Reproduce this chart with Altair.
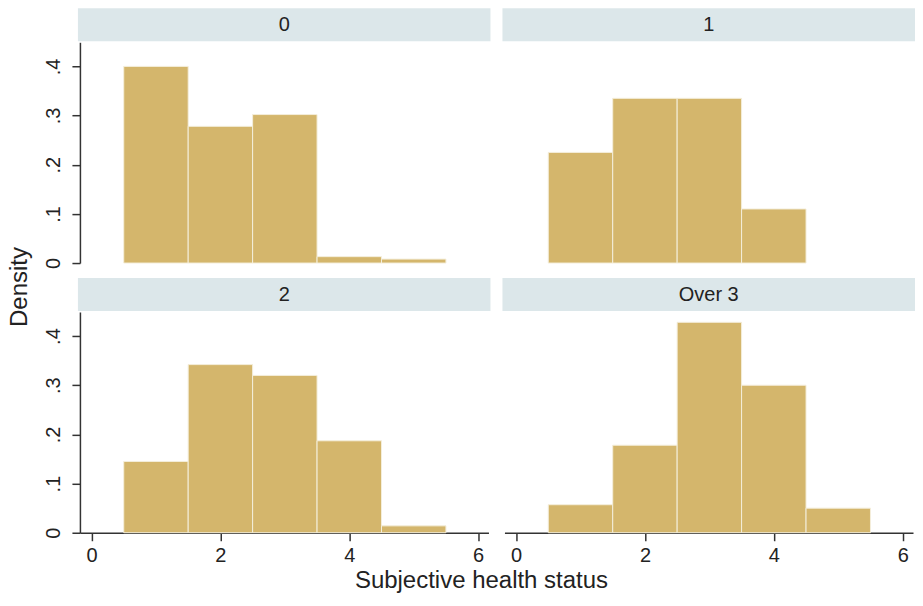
import altair as alt
import pandas as pd

groups = ["0", "1", "2", "Over 3"]
bin_starts = [0.5, 1.5, 2.5, 3.5, 4.5]
density_0 = [0.400, 0.278, 0.302, 0.013, 0.008]
density_1 = [0.225, 0.335, 0.335, 0.110]
density_2 = [0.145, 0.342, 0.320, 0.187, 0.014]
density_3 = [0.057, 0.178, 0.428, 0.300, 0.050]
y_ticks = [0, 0.1, 0.2, 0.3, 0.4]
x_ticks = [0, 2, 4, 6]

rows = []
for g, dens in zip(groups, [density_0, density_1, density_2, density_3]):
    for b, d in zip(bin_starts, dens):
        rows.append({"group": g, "bin_start": b, "bin_end": b + 1, "density": d})
df = pd.DataFrame(rows)

W = 409
H = 221
FONT = "Liberation Sans"
BAR = "#D4B66C"
BAND = "#DCE7EA"
AX = "#333333"

xscale = alt.Scale(domain=[-0.18, 6.16], nice=False, zero=False)
yscale = alt.Scale(domain=[0, 0.449], nice=False)

bars = alt.Chart().mark_rect(
    color=BAR, stroke="#F4EEDB", strokeWidth=1
).encode(
    x=alt.X("bin_start:Q", scale=xscale,
            axis=alt.Axis(values=x_ticks, title=None, grid=False, tickSize=8,
                          labelPadding=5, labelFontSize=20, labelFont=FONT,
                          labelColor="#222", domainColor=AX, tickColor=AX,
                          domainWidth=1.5, tickWidth=1.5)),
    x2="bin_end:Q",
    y=alt.Y("density:Q", scale=yscale,
            axis=alt.Axis(values=y_ticks, title=None, grid=False, tickSize=8,
                          labelPadding=8, labelFontSize=20, labelFont=FONT,
                          labelColor="#222", labelAngle=270, labelAlign="center",
                          labelBaseline="bottom",
                          labelExpr="datum.value == 0 ? '0' : replace(format(datum.value, '.1f'), '0', '')",
                          domainColor=AX, tickColor=AX, domainWidth=1.5, tickWidth=1.5)),
    y2=alt.Y2(datum=0),
)

band = alt.Chart().transform_filter("datum.bin_start == 0.5").mark_rect(
    color=BAND
).encode(
    x=alt.value(-2), x2=alt.value(W + 2), y=alt.value(-34), y2=alt.value(-1)
)

label = alt.Chart().transform_filter("datum.bin_start == 0.5").mark_text(
    font=FONT, fontSize=20, color="#222", baseline="middle", align="center"
).encode(
    x=alt.value(W / 2), y=alt.value(-17), text="group:N"
)

inner = alt.layer(band, label, bars, data=df).properties(
    width=W, height=H
).facet(
    facet=alt.Facet("group:N", sort=groups,
                    header=alt.Header(labels=False, labelFontSize=0, labelPadding=0,
                                      title=None)),
    columns=2,
    spacing={"row": 49, "column": 16},
    bounds="flush",
).properties(
    title=alt.TitleParams(text="Density", orient="left", anchor="middle",
                          font=FONT, fontSize=24, fontWeight="normal",
                          color="#222", offset=12)
)

chart = alt.vconcat(inner).properties(
    title=alt.TitleParams(text="Subjective health status", orient="bottom",
                          anchor="middle", font=FONT, fontSize=24,
                          fontWeight="normal", color="#222", offset=3, dx=20),
    padding={"left": 0, "top": 0, "right": 0, "bottom": 0},
    background="white",
).configure_view(stroke=None, strokeWidth=0).configure_header(
    labels=False, labelFontSize=0, labelPadding=0
)

chart.save("out.html", embed_options={"renderer": "svg", "actions": False})
